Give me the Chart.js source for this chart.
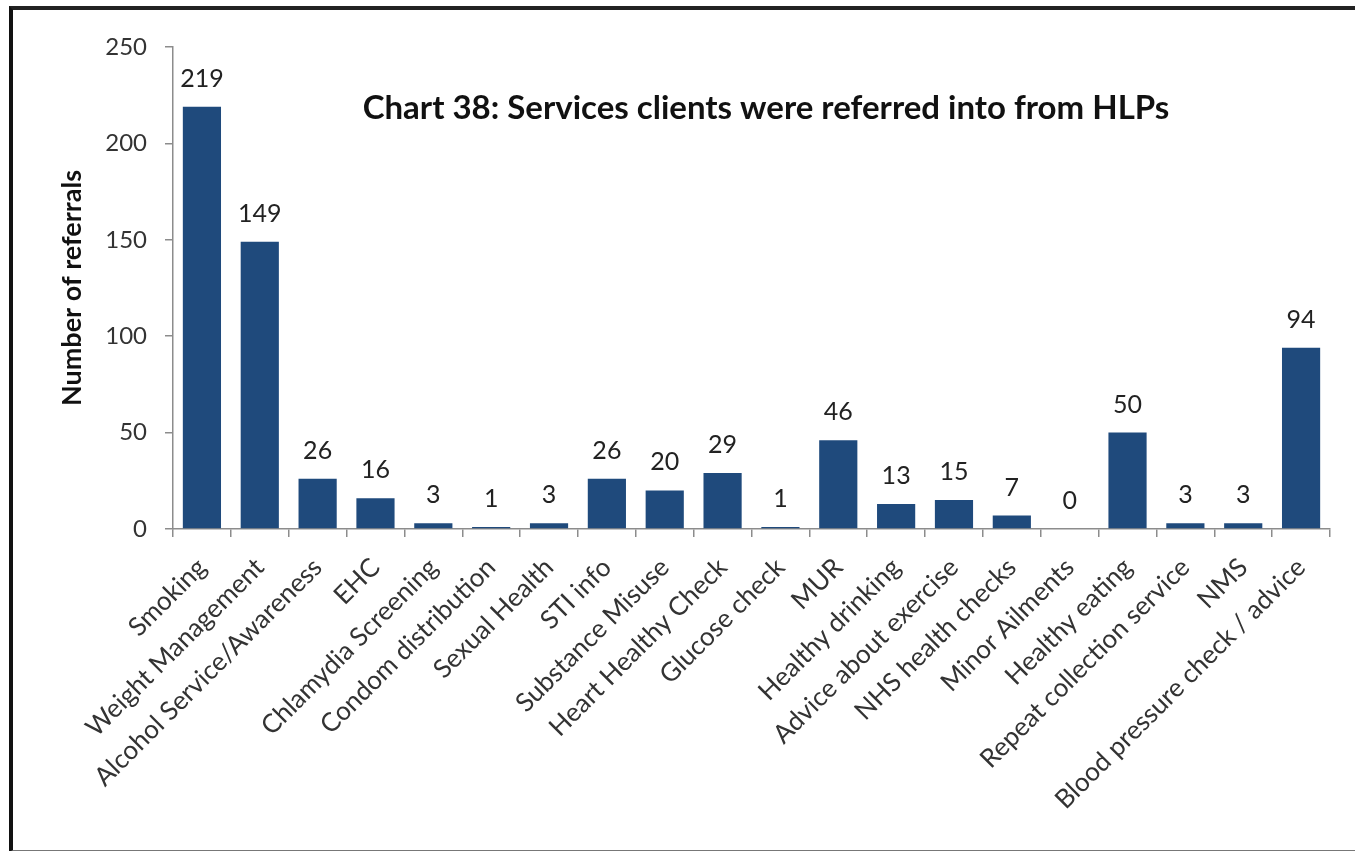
<!DOCTYPE html>
<html>
<head>
<meta charset="utf-8">
<script src="https://cdn.jsdelivr.net/npm/chart.js@4.4.1/dist/chart.umd.min.js"></script>
<style>
    html, body { margin: 0; padding: 0; background: #fff; overflow: hidden; }
    .frame {
        position: absolute; left: 9px; top: 6px; width: 1400px; height: 840px;
        border-left: 4px solid #111; border-top: 4px solid #222; border-bottom: 2px solid #777;
    }
    .wrap { position: absolute; left: 0; top: 0; width: 1355px; height: 851px; }
</style>
</head>
<body>
<div class="frame"></div>
<div class="wrap"><canvas id="referralsChart" width="1355" height="851"></canvas></div>
<script>
// Services clients were referred into
const services = [
    'Smoking', 'Weight Management', 'Alcohol Service/Awareness', 'EHC', 'Chlamydia Screening',
    'Condom distribution', 'Sexual Health', 'STI info', 'Substance Misuse', 'Heart Healthy Check',
    'Glucose check', 'MUR', 'Healthy drinking', 'Advice about exercise', 'NHS health checks',
    'Minor Ailments', 'Healthy eating', 'Repeat collection service', 'NMS', 'Blood pressure check / advice'
];
const referrals = [219, 149, 26, 16, 3, 1, 3, 26, 20, 29, 1, 46, 13, 15, 7, 0, 50, 3, 3, 94];
const yTicks = [0, 50, 100, 150, 200, 250];

const chartTitle = 'Chart 38: Services clients were referred into from HLPs';
const FONT = 'Lato, "Open Sans", sans-serif';

document.addEventListener('DOMContentLoaded', () => {
    // value above each bar
    const valueLabels = {
        id: 'valueLabels',
        afterDatasetsDraw(chart) {
            const ctx = chart.ctx;
            const meta = chart.getDatasetMeta(0);
            ctx.save();
            ctx.font = '25px ' + FONT;
            ctx.fillStyle = '#222';
            ctx.textAlign = 'center';
            ctx.textBaseline = 'alphabetic';
            meta.data.forEach((bar, i) => {
                ctx.fillText(String(referrals[i]), bar.x, bar.y - 20);
            });
            ctx.restore();
        }
    };

    // title sits inside the plot area
    const innerTitle = {
        id: 'innerTitle',
        afterDraw(chart) {
            const ctx = chart.ctx;
            ctx.save();
            ctx.font = 'bold 33px ' + FONT;
            ctx.fillStyle = '#111';
            ctx.textAlign = 'center';
            ctx.textBaseline = 'middle';
            ctx.fillText(chartTitle, 766, 108);
            ctx.restore();
        }
    };

    const ctx = document.getElementById('referralsChart').getContext('2d');
    new Chart(ctx, {
        type: 'bar',
        data: {
            labels: services,
            datasets: [{
                data: referrals,
                backgroundColor: '#1f4a7c',
                barPercentage: 0.66,
                categoryPercentage: 1
            }]
        },
        options: {
            responsive: false,
            animation: false,
            layout: { padding: { left: 52, top: 47, right: 25, bottom: 0 } },
            plugins: {
                legend: { display: false },
                tooltip: { enabled: false }
            },
            scales: {
                y: {
                    min: 0,
                    max: 250,
                    afterBuildTicks: (scale) => { scale.ticks = yTicks.map(v => ({ value: v })); },
                    afterFit: (scale) => { scale.width = 121; },
                    border: { color: '#8c8c8c', width: 1.5 },
                    grid: { drawOnChartArea: false, color: '#8c8c8c', tickLength: 8, lineWidth: 1.5 },
                    ticks: { color: '#333', padding: 18, font: { family: FONT, size: 24 } },
                    title: {
                        display: true,
                        text: 'Number of referrals',
                        color: '#111',
                        font: { family: FONT, size: 27, weight: 'bold' }
                    }
                },
                x: {
                    afterFit: (scale) => { scale.height = 322; },
                    border: { color: '#8c8c8c', width: 1.5 },
                    grid: { drawOnChartArea: false, color: '#8c8c8c', tickLength: 8, lineWidth: 1.5 },
                    ticks: {
                        color: '#333',
                        autoSkip: false,
                        maxRotation: 45,
                        minRotation: 45,
                        padding: 15,
                        font: { family: FONT, size: 26 }
                    }
                }
            }
        },
        plugins: [valueLabels, innerTitle]
    });
});
</script>
</body>
</html>
